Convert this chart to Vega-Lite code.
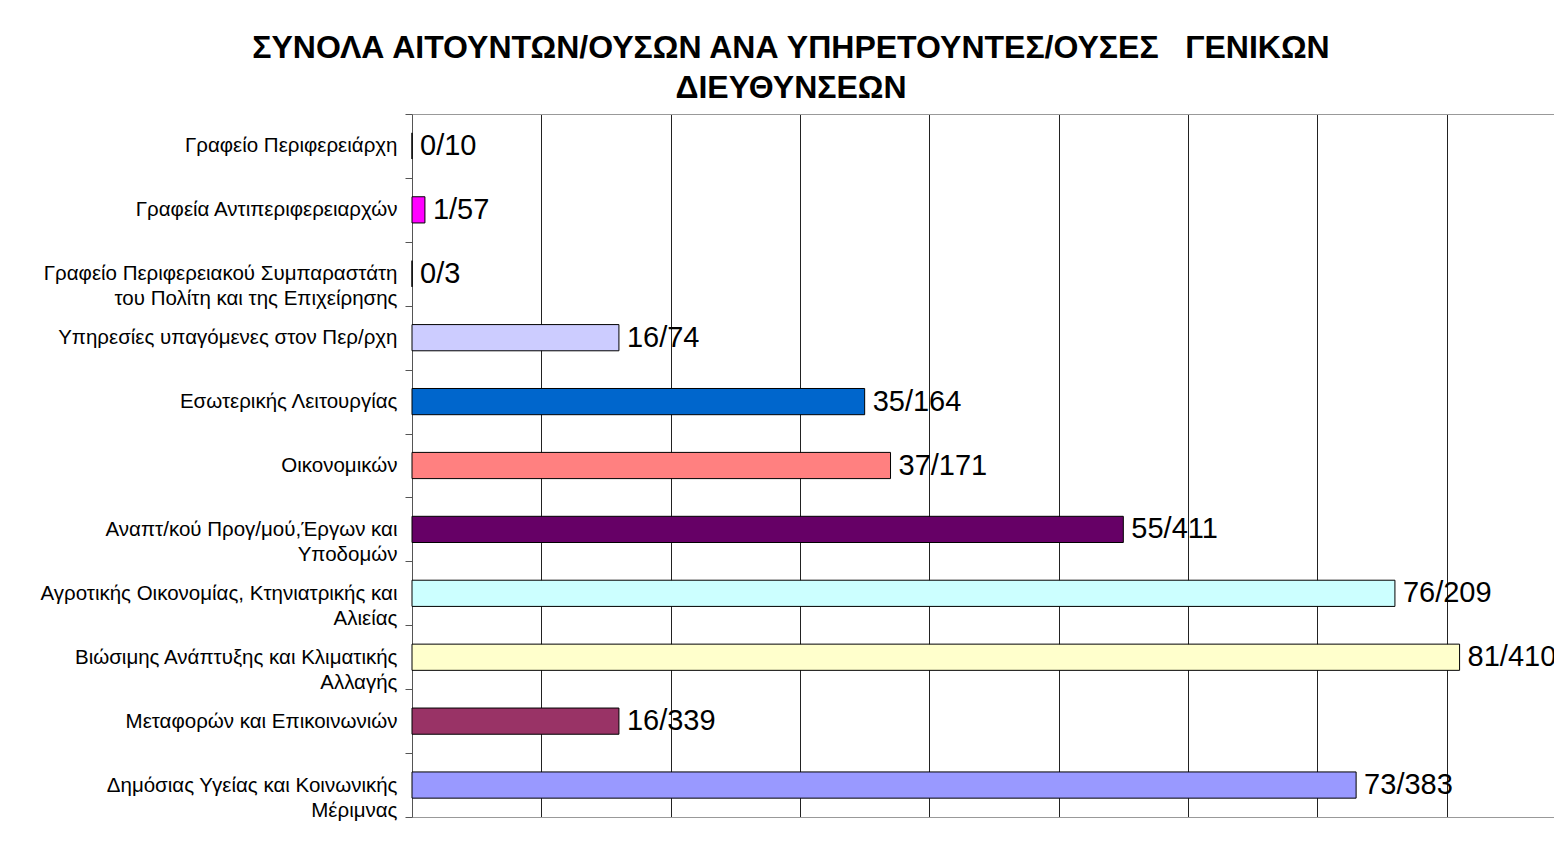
{
  "$schema": "https://vega.github.io/schema/vega-lite/v6.json",
  "width": 1142,
  "height": 703,
  "autosize": {"type": "none"},
  "padding": {"left": 412, "top": 114, "right": 0, "bottom": 25},
  "background": "white",
  "config": {"view": {"stroke": null}, "font": "Liberation Sans"},
  "title": {
    "text": ["ΣΥΝΟΛΑ ΑΙΤΟΥΝΤΩΝ/ΟΥΣΩΝ ΑΝΑ ΥΠΗΡΕΤΟΥΝΤΕΣ/ΟΥΣΕΣ\u00a0\u00a0\u00a0ΓΕΝΙΚΩΝ", "ΔΙΕΥΘΥΝΣΕΩΝ"],
    "fontSize": 32,
    "fontWeight": "bold",
    "font": "Liberation Sans",
    "color": "black",
    "anchor": "middle",
    "frame": "group",
    "dx": -192,
    "lineHeight": 40,
    "offset": -1
  },
  "data": {
    "values": [
      {"unit": "Γραφείο Περιφερειάρχη", "value": 0, "label": "0/10"},
      {"unit": "Γραφεία Αντιπεριφερειαρχών", "value": 1, "label": "1/57"},
      {"unit": "Γραφείο Περιφερειακού Συμπαραστάτη|του Πολίτη και της Επιχείρησης", "value": 0, "label": "0/3"},
      {"unit": "Υπηρεσίες υπαγόμενες στον Περ/ρχη", "value": 16, "label": "16/74"},
      {"unit": "Εσωτερικής Λειτουργίας", "value": 35, "label": "35/164"},
      {"unit": "Οικονομικών", "value": 37, "label": "37/171"},
      {"unit": "Αναπτ/κού Προγ/μού,Έργων και|Υποδομών", "value": 55, "label": "55/411"},
      {"unit": "Αγροτικής Οικονομίας, Κτηνιατρικής και|Αλιείας", "value": 76, "label": "76/209"},
      {"unit": "Βιώσιμης Ανάπτυξης και Κλιματικής|Αλλαγής", "value": 81, "label": "81/410"},
      {"unit": "Μεταφορών και Επικοινωνιών", "value": 16, "label": "16/339"},
      {"unit": "Δημόσιας Υγείας και Κοινωνικής|Μέριμνας", "value": 73, "label": "73/383"}
    ]
  },
  "encoding": {
    "y": {
      "field": "unit",
      "type": "nominal",
      "sort": null,
      "scale": {"paddingInner": 0, "paddingOuter": 0},
      "axis": {
        "title": null,
        "domainColor": "#555555",
        "tickColor": "#555555",
        "tickSize": 7,
        "tickBand": "extent",
        "labelPadding": 8,
        "labelFontSize": 20.5,
        "labelFont": "Liberation Sans",
        "labelColor": "black",
        "labelLimit": 500,
        "labelLineHeight": 25,
        "labelExpr": "split(datum.label, '|')",
        "grid": false
      }
    }
  },
  "layer": [
    {
      "mark": {"type": "bar", "height": {"band": 0.41}, "stroke": "black", "strokeWidth": 1},
      "encoding": {
        "x": {
          "field": "value",
          "type": "quantitative",
          "scale": {"domain": [0, 88.3], "nice": false, "zero": true},
          "axis": {
            "orient": "bottom",
            "title": null,
            "grid": true,
            "gridColor": "#222222",
            "gridOpacity": 1,
            "gridWidth": 1,
            "values": [10, 20, 30, 40, 50, 60, 70, 80],
            "labels": false,
            "ticks": false,
            "domain": true,
            "domainColor": "#999999"
          }
        },
        "color": {
          "field": "unit",
          "type": "nominal",
          "legend": null,
          "scale": {
            "domain": [
              "Γραφείο Περιφερειάρχη",
              "Γραφεία Αντιπεριφερειαρχών",
              "Γραφείο Περιφερειακού Συμπαραστάτη|του Πολίτη και της Επιχείρησης",
              "Υπηρεσίες υπαγόμενες στον Περ/ρχη",
              "Εσωτερικής Λειτουργίας",
              "Οικονομικών",
              "Αναπτ/κού Προγ/μού,Έργων και|Υποδομών",
              "Αγροτικής Οικονομίας, Κτηνιατρικής και|Αλιείας",
              "Βιώσιμης Ανάπτυξης και Κλιματικής|Αλλαγής",
              "Μεταφορών και Επικοινωνιών",
              "Δημόσιας Υγείας και Κοινωνικής|Μέριμνας"
            ],
            "range": ["#000080", "#FF00FF", "#FFFF00", "#CCCCFF", "#0066CC", "#FF8080", "#660066", "#CCFFFF", "#FFFFCC", "#993366", "#9999FF"]
          }
        }
      }
    },
    {
      "mark": {"type": "text", "align": "left", "baseline": "middle", "dx": 8, "fontSize": 29, "font": "Liberation Sans", "color": "black", "clip": true},
      "encoding": {
        "x": {
          "field": "value",
          "type": "quantitative",
          "axis": {
            "orient": "top",
            "title": null,
            "labels": false,
            "ticks": false,
            "grid": false,
            "domain": true,
            "domainColor": "#999999"
          }
        },
        "text": {"field": "label"}
      }
    }
  ],
  "resolve": {"axis": {"x": "independent"}}
}
